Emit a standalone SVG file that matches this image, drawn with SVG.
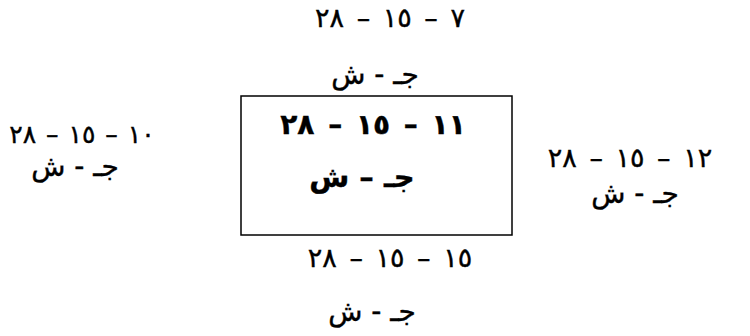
<svg xmlns="http://www.w3.org/2000/svg" width="750" height="336" viewBox="0 0 750 336">
<style>
.n{font-family:"DejaVu Sans",sans-serif;font-size:27px;fill:#000;stroke:#000;stroke-width:0.4;text-anchor:middle;word-spacing:4px}
.l{font-family:"DejaVu Sans",sans-serif;font-size:28px;fill:#000;stroke:#000;stroke-width:0.4;text-anchor:middle}
.b{font-weight:bold}
.box{fill:none;stroke:#000;stroke-width:1.5}
</style>
<rect width="750" height="336" fill="#fff"/>
<g id="sheet-top">
<text class="n" x="390" y="27" direction="rtl">٧ – ١٥ – ٢٨</text>
<text class="l" x="375" y="84" direction="rtl">جـ - ش</text>
</g>
<g id="sheet-left">
<text class="n" x="82" y="143" direction="rtl" style="font-size:25px;word-spacing:2px">١٠ – ١٥ – ٢٨</text>
<text class="l" x="75" y="176" direction="rtl">جـ - ش</text>
</g>
<g id="sheet-center">
<rect class="box" x="241" y="96" width="271" height="139"/>
<text class="n b" x="373" y="134" direction="rtl" style="font-size:28px">١١ – ١٥ – ٢٨</text>
<text class="l b" x="362" y="187" direction="rtl" style="font-size:29px">جـ – ش</text>
</g>
<g id="sheet-right">
<text class="n" x="630" y="167" direction="rtl">١٢ – ١٥ – ٢٨</text>
<text class="l" x="635" y="203" direction="rtl">جـ - ش</text>
</g>
<g id="sheet-bottom">
<text class="n" x="390" y="267" direction="rtl">١٥ – ١٥ – ٢٨</text>
<text class="l" x="372" y="321" direction="rtl">جـ - ش</text>
</g>
<g id="connectors"/>
</svg>
